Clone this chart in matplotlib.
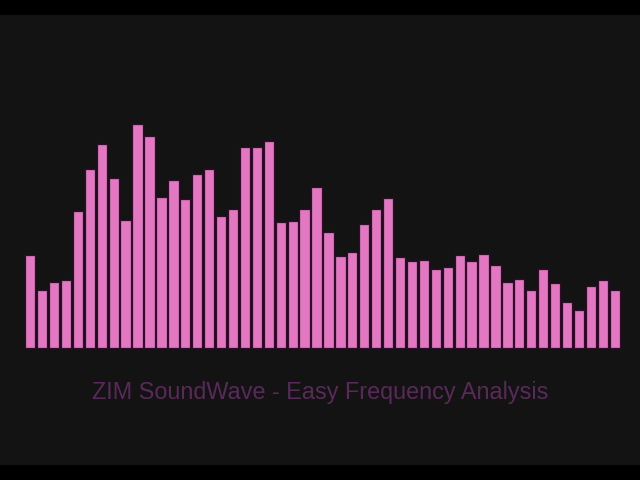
import matplotlib
matplotlib.use("Agg")
import matplotlib.pyplot as plt
import numpy as np

heights = [93, 58, 66, 68, 137, 179, 204, 170, 128, 224,
           212, 151, 168, 149, 174, 179, 132, 139, 201, 201,
           207, 126, 127, 139, 161, 116, 92, 96, 124, 139,
           150, 91, 87, 88, 79, 81, 93, 87, 94, 83,
           66, 69, 58, 79, 65, 46, 38, 62, 68, 58]
title = "ZIM SoundWave - Easy Frequency Analysis"

fig = plt.figure(figsize=(6.4, 4.8), dpi=100, facecolor="black")
ax = fig.add_axes([0, 15/480, 1, 450/480])
ax.set_facecolor("#131313")
x = np.arange(len(heights))
ax.bar(x, heights, width=0.865, color="#e377c2", edgecolor="#2e0f2a", linewidth=0.9)
step = 11.93
ax.set_xlim(-30.2/step, (640-30.2)/step)
ax.set_ylim(-116.7, 333.3)
for s in ax.spines.values():
    s.set_visible(False)
ax.set_xticks([]); ax.set_yticks([])
fig.text(0.5, 1-393/480, title, ha="center", va="center",
         color="#592a59", fontsize=16.8, family="Liberation Sans")
fig.savefig("out.png", dpi=100, facecolor="black")
